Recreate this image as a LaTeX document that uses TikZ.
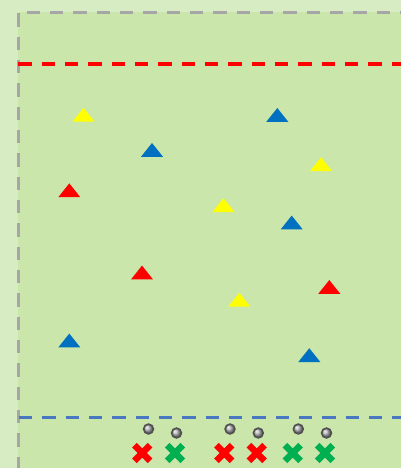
\documentclass[tikz,border=0pt]{standalone}
\usetikzlibrary{shadings}
\definecolor{outerbg}{HTML}{D7ECC2}
\definecolor{field}{HTML}{CAE6AA}
\definecolor{lineGray}{HTML}{A6A6A6}
\definecolor{lineRed}{HTML}{FF0000}
\definecolor{lineBlue}{HTML}{4A78C0}
\definecolor{coneYellow}{HTML}{FFFF00}
\definecolor{coneBlue}{HTML}{0070C0}
\definecolor{coneRed}{HTML}{FF0000}
\definecolor{xGreen}{HTML}{00B050}
\definecolor{ballEdge}{HTML}{505050}
\tikzset{
  dashline/.style={line width=3.2pt, dash pattern=on 13.33pt off 10pt},
  pics/cone/.style={code={\fill[#1] (-11,0) -- (0,-13.8) -- (11,0) -- cycle;}},
  pics/cross/.style={code={\draw[#1, line width=6.5pt, line cap=butt] (-7.8,-7.8) -- (7.8,7.8) (-7.8,7.8) -- (7.8,-7.8);}},
  pics/ballpic/.style={code={\shade[ball color=gray!60, draw=ballEdge, line width=1.6pt] (0,0) circle (4.9);}}
}
\begin{document}
\begin{tikzpicture}[x=1pt,y=-1pt]
\useasboundingbox (0,0) rectangle (401,468);
\fill[outerbg] (0,0) rectangle (401,468);
\fill[field] (18,12) rectangle (401,468);
% field borders
\draw[lineGray, dashline] (18.4,13.3) -- (18.4,468);
\draw[lineGray, dashline] (26.7,12.5) -- (401,12.5);
% red and blue lines
\draw[lineRed, dashline, line width=3.4pt] (18.3,64) -- (401,64);
\draw[lineBlue, dashline] (19,417.5) -- (401,417.5);
% cones
\pic at (83.5,121.6) {cone=coneYellow};
\pic at (223.5,212) {cone=coneYellow};
\pic at (321,171) {cone=coneYellow};
\pic at (239.3,306.6) {cone=coneYellow};
\pic at (152,156.8) {cone=coneBlue};
\pic at (277.3,121.8) {cone=coneBlue};
\pic at (291.7,229.4) {cone=coneBlue};
\pic at (69.3,347.4) {cone=coneBlue};
\pic at (309.3,362) {cone=coneBlue};
\pic at (69.3,197.2) {cone=coneRed};
\pic at (142,279.4) {cone=coneRed};
\pic at (329.3,293.8) {cone=coneRed};
% balls
\pic at (148.5,429) {ballpic};
\pic at (176.5,433) {ballpic};
\pic at (230,429) {ballpic};
\pic at (258.3,433) {ballpic};
\pic at (298.3,429) {ballpic};
\pic at (326.5,433) {ballpic};
% crosses
\pic at (142.3,453) {cross=coneRed};
\pic at (175,453) {cross=xGreen};
\pic at (224.3,453) {cross=coneRed};
\pic at (256.7,453) {cross=coneRed};
\pic at (292.7,453) {cross=xGreen};
\pic at (325,453) {cross=xGreen};
\end{tikzpicture}
\end{document}
